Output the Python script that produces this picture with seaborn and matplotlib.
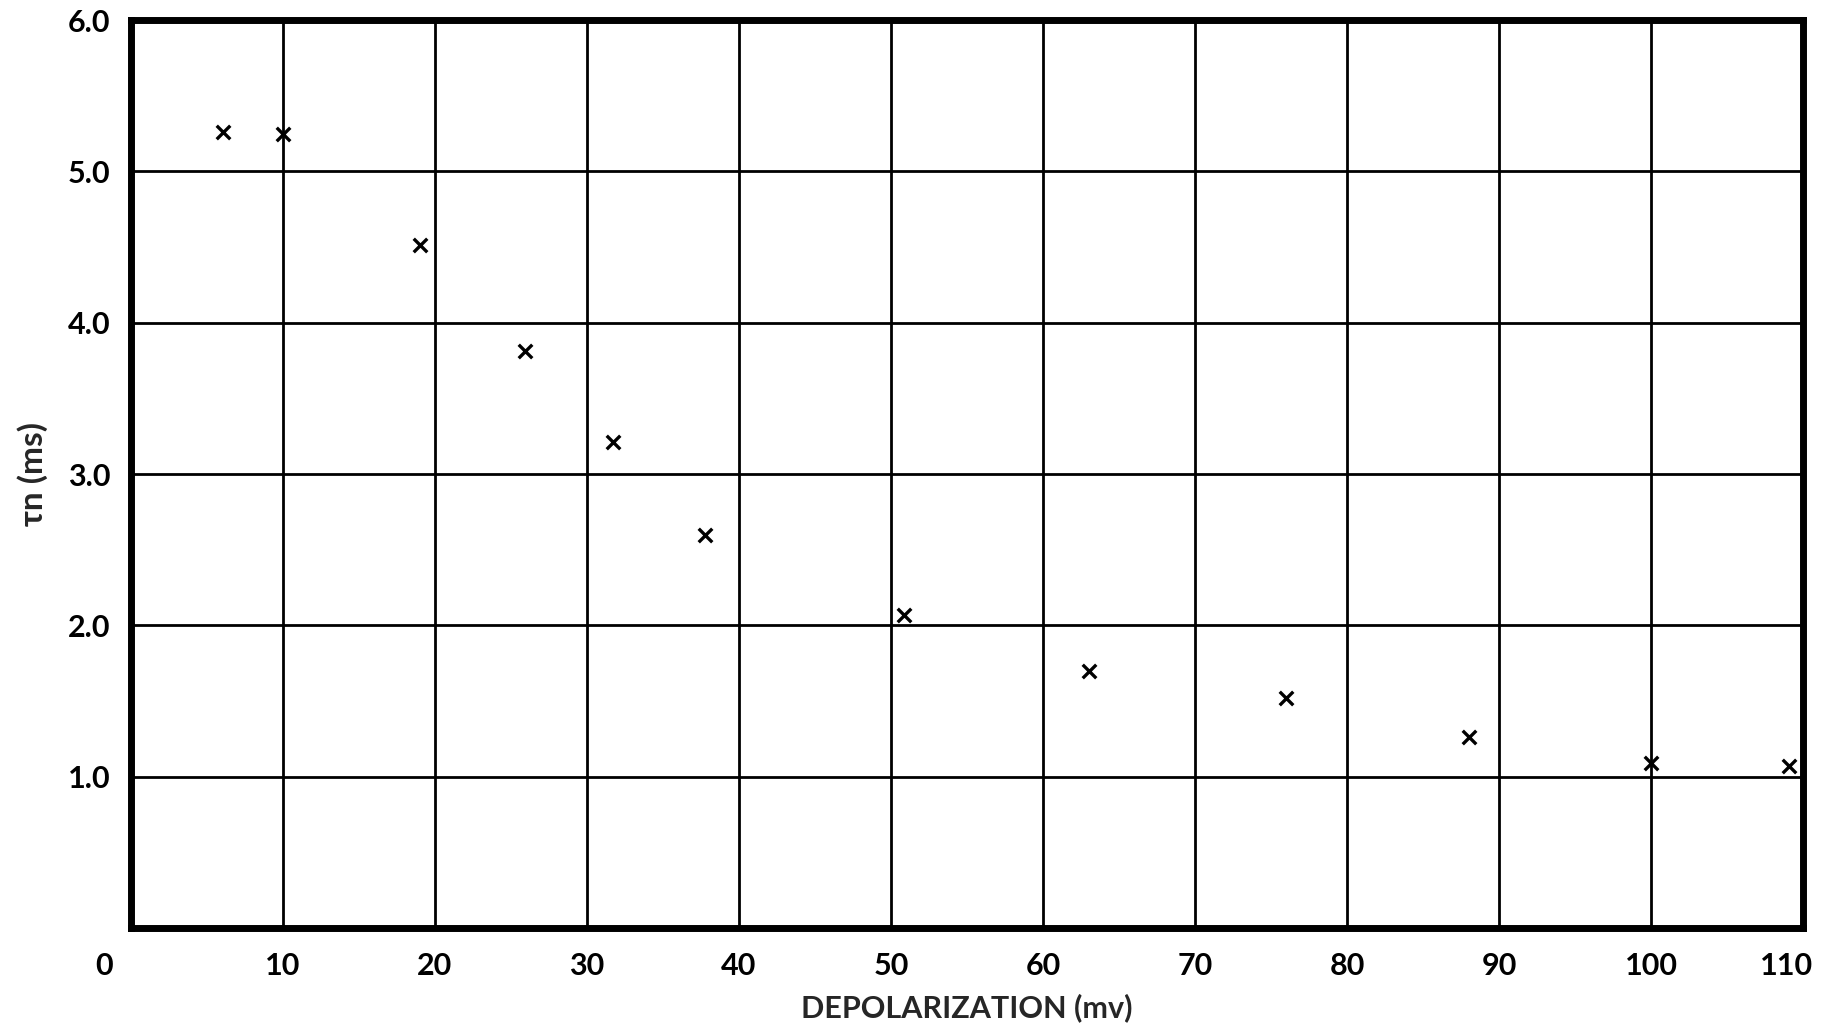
import matplotlib
matplotlib.use("Agg")
import matplotlib.pyplot as plt
import matplotlib.transforms as mtransforms
import seaborn as sns
import pandas as pd

# Data
depolarization_mv = [6.05, 10.0, 19.0, 25.9, 31.7, 37.75, 50.85, 63.0, 76.0, 88.05, 100.0, 109.1]
tau_n_ms = [5.26, 5.25, 4.51, 3.81, 3.21, 2.60, 2.07, 1.70, 1.52, 1.26, 1.09, 1.07]

x_ticks = [0, 10, 20, 30, 40, 50, 60, 70, 80, 90, 100, 110]
x_tick_labels = ["0", "10", "20", "30", "40", "50", "60", "70", "80", "90", "100", "110"]
y_ticks = [1.0, 2.0, 3.0, 4.0, 5.0, 6.0]
y_tick_labels = ["1.0", "2.0", "3.0", "4.0", "5.0", "6.0"]

df = pd.DataFrame({"x": depolarization_mv, "y": tau_n_ms})

sns.set_theme(style="white")
plt.rcParams["font.family"] = ["Lato", "DejaVu Sans"]

fig = plt.figure(figsize=(18.46, 10.34), dpi=100)
ax = fig.add_axes([131 / 1846, 1 - 928 / 1034, (1803 - 131) / 1846, (928 - 20) / 1034])

sns.scatterplot(data=df, x="x", y="y", ax=ax, marker="x", color="black",
                s=95, linewidth=2.4, legend=False, zorder=5)

ax.set_xlim(0, 110)
ax.set_ylim(0, 6)
ax.set_xticks(x_ticks)
ax.set_xticklabels(x_tick_labels)
ax.set_yticks(y_ticks)
ax.set_yticklabels(y_tick_labels)

ax.grid(True, color="black", linewidth=2.0)
ax.set_axisbelow(True)
for s in ax.spines.values():
    s.set_color("black")
    s.set_linewidth(5)

ax.tick_params(axis="both", length=0, labelsize=22, colors="black")
ax.tick_params(axis="x", pad=17)
ax.tick_params(axis="y", pad=15)
for lab in ax.get_xticklabels() + ax.get_yticklabels():
    lab.set_fontweight("bold")

# hand-lettered offsets of the first and last x labels
xl = ax.get_xticklabels()
xl[0].set_transform(xl[0].get_transform() + mtransforms.ScaledTranslation(-0.27, 0, fig.dpi_scale_trans))
xl[-1].set_transform(xl[-1].get_transform() + mtransforms.ScaledTranslation(-0.16, 0, fig.dpi_scale_trans))

ax.set_xlabel("DEPOLARIZATION (mv)", fontsize=22, fontweight="bold", labelpad=10)
ax.set_ylabel("τn (ms)", fontsize=24, fontweight="bold", labelpad=14)

fig.savefig("out.png", dpi=100, facecolor="white")
